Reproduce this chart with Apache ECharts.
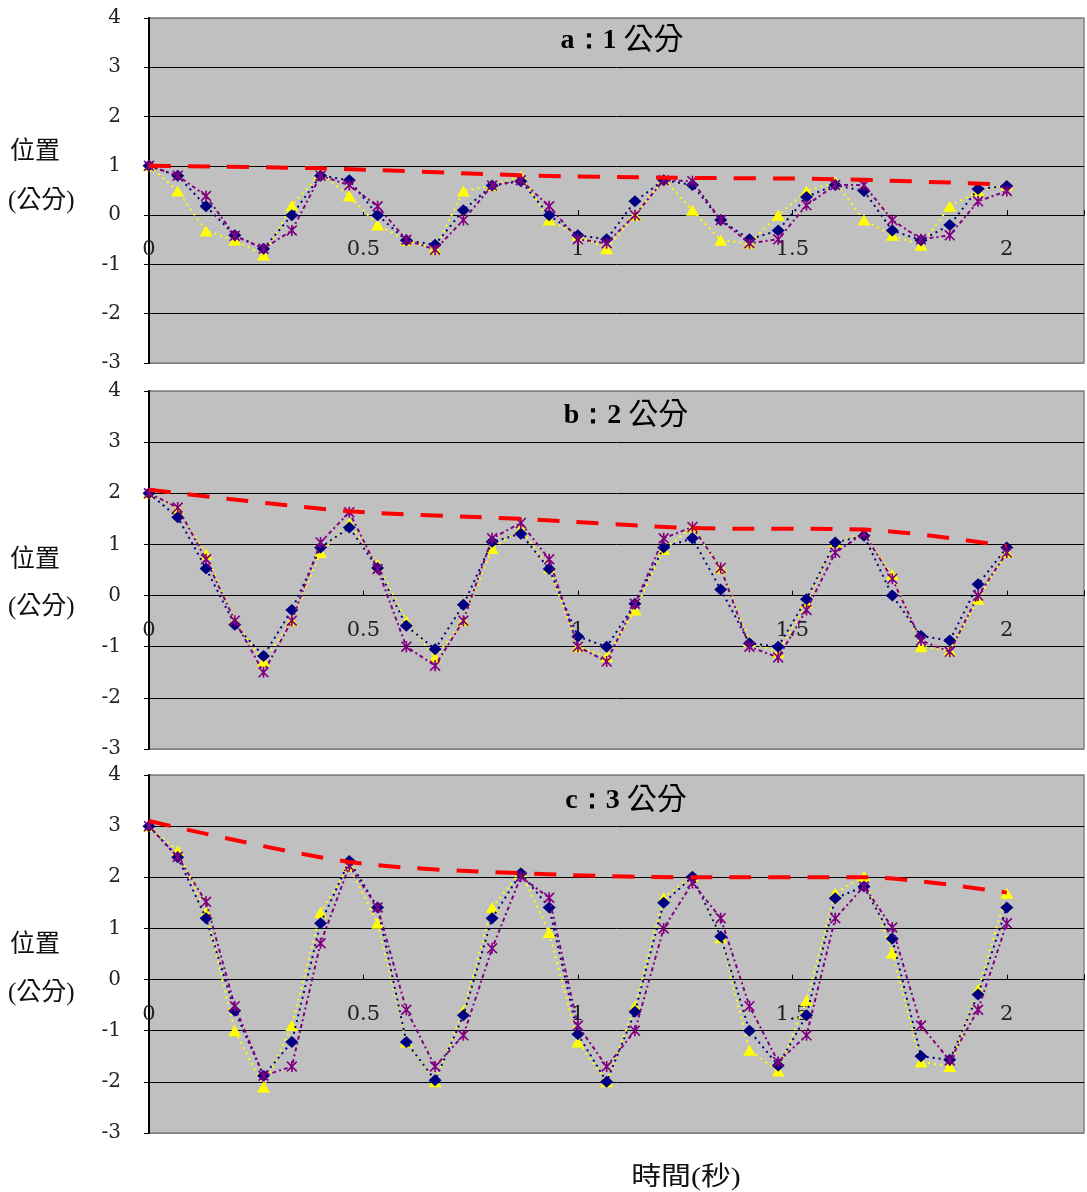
<!DOCTYPE html>
<html>
<head>
<meta charset="utf-8">
<script src="https://cdn.jsdelivr.net/npm/echarts@6/dist/echarts.min.js"></script>
<style>html,body{margin:0;padding:0;background:#fff}#c{width:1087px;height:1192px}</style>
</head>
<body>
<div id="c"></div>
<script>
// sample times (s)
var times = [0,0.067,0.133,0.2,0.267,0.333,0.4,0.467,0.533,0.6,0.667,0.733,0.8,0.867,0.933,1,1.067,1.133,1.2,1.267,1.333,1.4,1.467,1.533,1.6,1.667,1.733,1.8,1.867,1.933,2];
var xTicks = [0, 0.5, 1, 1.5, 2];
var yMin = -3, yMax = 4;
var panelTitles = ['a', 'b', 'c'];
var panelAmps = ['1', '2', '3'];

// panel a : 1 cm
var navyA   = [1.0,0.80,0.18,-0.41,-0.68,0.0,0.80,0.71,0.0,-0.51,-0.60,0.10,0.60,0.69,0.0,-0.41,-0.49,0.28,0.71,0.61,-0.10,-0.49,-0.31,0.37,0.61,0.49,-0.31,-0.51,-0.20,0.53,0.59];
var yellowA = [1.0,0.49,-0.32,-0.51,-0.81,0.19,0.85,0.39,-0.20,-0.51,-0.68,0.49,0.60,0.79,-0.10,-0.41,-0.68,0.0,0.73,0.10,-0.51,-0.57,0.0,0.49,0.67,-0.10,-0.41,-0.61,0.18,0.49,0.61];
var purpleA = [1.0,0.80,0.39,-0.42,-0.68,-0.31,0.80,0.61,0.18,-0.50,-0.70,-0.10,0.60,0.71,0.18,-0.49,-0.57,0.0,0.71,0.69,-0.10,-0.57,-0.49,0.20,0.61,0.61,-0.10,-0.49,-0.41,0.28,0.49];
var envTA = [0,0.4,0.867,1.2,1.6,2];
var envA  = [1.0,0.95,0.81,0.76,0.73,0.62];

// panel b : 2 cm
var navyB   = [2.0,1.53,0.53,-0.57,-1.18,-0.28,0.94,1.33,0.54,-0.59,-1.05,-0.18,1.05,1.21,0.52,-0.80,-1.0,-0.16,0.94,1.12,0.12,-0.93,-1.0,-0.07,1.04,1.17,0.0,-0.79,-0.88,0.22,0.94];
var yellowB = [2.0,1.70,0.81,-0.49,-1.29,-0.49,0.84,1.42,0.61,-0.50,-1.21,-0.49,0.92,1.30,0.54,-1.0,-1.19,-0.28,0.90,1.34,0.54,-0.90,-1.11,-0.14,1.04,1.22,0.41,-1.0,-1.08,-0.07,0.84];
var purpleB = [2.0,1.72,0.71,-0.49,-1.50,-0.49,1.04,1.63,0.52,-1.0,-1.37,-0.49,1.12,1.42,0.71,-1.0,-1.29,-0.16,1.12,1.34,0.54,-1.0,-1.21,-0.28,0.84,1.22,0.33,-0.88,-1.10,0.0,0.84];
var envTB = [0,0.467,0.867,1.267,1.667,2];
var envB  = [2.07,1.65,1.5,1.32,1.29,0.97];

// panel c : 3 cm
var navyC   = [3.0,2.39,1.20,-0.61,-1.88,-1.22,1.10,2.32,1.41,-1.22,-1.97,-0.70,1.20,2.08,1.41,-1.07,-2.0,-0.63,1.50,2.01,0.84,-1.0,-1.68,-0.70,1.59,1.82,0.80,-1.50,-1.57,-0.29,1.41];
var yellowC = [3.0,2.52,1.31,-1.0,-2.10,-0.90,1.31,2.22,1.10,-1.22,-2.0,-0.61,1.41,2.11,0.92,-1.22,-2.0,-0.52,1.60,2.02,0.82,-1.38,-1.79,-0.41,1.69,2.02,0.52,-1.61,-1.70,-0.20,1.69];
var purpleC = [3.0,2.40,1.52,-0.52,-1.88,-1.70,0.71,2.22,1.41,-0.59,-1.70,-1.09,0.61,2.01,1.60,-0.90,-1.70,-1.0,1.0,1.89,1.20,-0.52,-1.61,-1.09,1.20,1.82,1.02,-0.90,-1.58,-0.59,1.10];
var envTC = [0,0.467,0.867,1.267,1.667,2];
var envC  = [3.1,2.3,2.08,2.0,2.0,1.7];

var panels = [
  {navy: navyA, yellow: yellowA, purple: purpleA, envT: envTA, env: envA},
  {navy: navyB, yellow: yellowB, purple: purpleB, envT: envTB, env: envB},
  {navy: navyC, yellow: yellowC, purple: purpleC, envT: envTC, env: envC}
];

function pair(xs, ys) { return xs.map(function (x, i) { return [x, ys[i]]; }); }

var gridBoxes = [
  {top: 18, height: 345},
  {top: 391, height: 358},
  {top: 775, height: 358}
];
var SERIF = '"Liberation Serif", "Times New Roman", serif';
var AXISFONT = '"DejaVu Serif", "Liberation Serif", serif';
var CJK = '"Liberation Serif", "Noto Sans CJK TC", "Noto Sans CJK SC", serif';
var asterisk = 'path://M8.5,0H11.5V20H8.5Z M0,2.1L2.1,0L20,17.9L17.9,20Z M17.9,0L20,2.1L2.1,20L0,17.9Z';

var grids = [], xAxes = [], yAxes = [], series = [], graphics = [];
gridBoxes.forEach(function (g, i) {
  grids.push({left: 149, top: g.top, width: 938, height: g.height, show: true,
    backgroundColor: '#C0C0C0', borderColor: '#808080', borderWidth: 1.5});
  // x axis drawn at the y = 0 line (offset up from the bottom of the grid)
  var zeroOffset = -g.height * (0 - yMin) / (yMax - yMin);
  xAxes.push({type: 'value', gridIndex: i, min: 0, max: 2.18, interval: 0.5, position: 'bottom', offset: zeroOffset,
    axisLine: {onZero: false, lineStyle: {color: '#000', width: 1}},
    axisTick: {inside: true, length: 5, lineStyle: {color: '#000', width: 1}},
    axisLabel: {margin: 24, fontFamily: AXISFONT, fontSize: 21, color: '#222',
      formatter: function (v) { return xTicks.indexOf(Math.round(v * 1000) / 1000) >= 0 ? String(v) : ''; }},
    splitLine: {show: false}});
  yAxes.push({type: 'value', gridIndex: i, min: yMin, max: yMax, interval: 1,
    axisLine: {show: true, onZero: false, lineStyle: {color: '#000', width: 2}},
    axisTick: {show: true, inside: false, length: 5, lineStyle: {color: '#000', width: 1}},
    axisLabel: {margin: 28, fontFamily: AXISFONT, fontSize: 20, color: '#222'},
    splitLine: {show: true, lineStyle: {color: ['#808080','#000','#000','#000','#000','#000','#000','#808080'], width: 1}}});
  var p = panels[i];
  series.push({type: 'line', xAxisIndex: i, yAxisIndex: i, data: pair(times, p.navy),
    symbol: 'diamond', symbolSize: [13, 12], itemStyle: {color: '#000080'},
    lineStyle: {color: '#000080', width: 2, type: [2, 4]}, z: 3});
  series.push({type: 'line', xAxisIndex: i, yAxisIndex: i, data: pair(times, p.yellow),
    symbol: 'triangle', symbolSize: [13, 11], itemStyle: {color: '#FFFF00'},
    lineStyle: {color: '#FFFF00', width: 2, type: [2, 4]}, z: 2});
  series.push({type: 'line', xAxisIndex: i, yAxisIndex: i, data: pair(times, p.purple),
    symbol: asterisk, symbolSize: 11, itemStyle: {color: '#800080'},
    lineStyle: {color: '#800080', width: 2, type: [4, 3, 2, 3]}, z: 4});
  series.push({type: 'line', xAxisIndex: i, yAxisIndex: i, data: pair(p.envT, p.env),
    symbol: 'none', smooth: 0.3,
    lineStyle: {color: '#FF0000', width: 4, type: [22, 17]}, z: 5});
});

var titleCenters = [[622, 41], [626, 416], [626, 801]];
titleCenters.forEach(function (c, i) {
  graphics.push({type: 'text', x: c[0], y: c[1], z: 100,
    style: {text: '{l|' + panelTitles[i] + '：' + panelAmps[i] + ' }{c|公分}', align: 'center', verticalAlign: 'middle',
      rich: {l: {font: 'bold 28px ' + SERIF, fill: '#000'}, c: {font: '30px ' + CJK, fill: '#000'}}}});
});
var nameRows = [[152, 201], [560, 607], [945, 993]];
nameRows.forEach(function (r) {
  graphics.push({type: 'text', x: 10, y: r[0], style: {text: '位置', font: '25px ' + CJK, fill: '#111', verticalAlign: 'middle'}});
  graphics.push({type: 'text', x: 8, y: r[1], style: {text: '(公分)', font: '25px ' + CJK, fill: '#111', verticalAlign: 'middle'}});
});
graphics.push({type: 'text', x: 686, y: 1178, scaleX: 1.15,
  style: {text: '時間(秒)', font: '26px ' + CJK, fill: '#111', align: 'center', verticalAlign: 'middle'}});

var chart = echarts.init(document.getElementById('c'), null, {renderer: 'canvas'});
chart.setOption({
  animation: false,
  backgroundColor: '#fff',
  grid: grids,
  xAxis: xAxes,
  yAxis: yAxes,
  series: series,
  graphic: graphics
});
</script>
</body>
</html>
